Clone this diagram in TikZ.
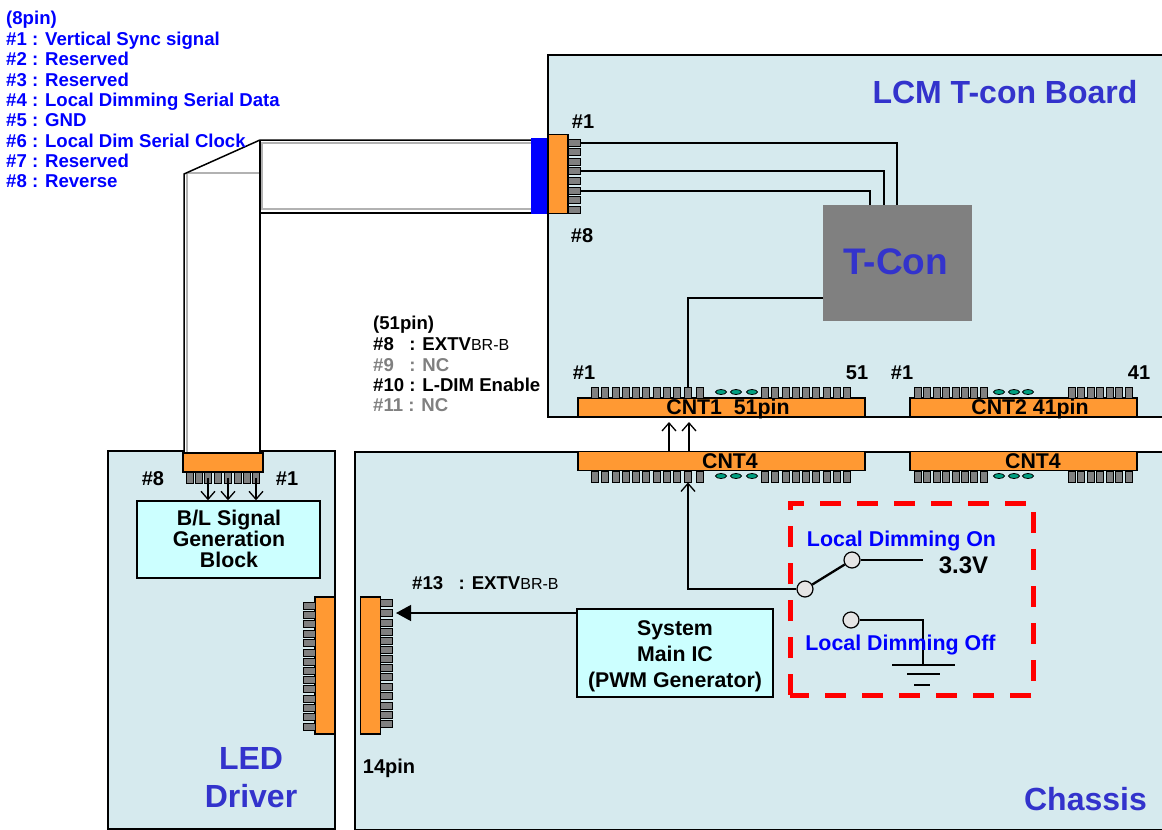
\documentclass[tikz,border=0pt]{standalone}
\usepackage{fontspec}
\setmainfont{Liberation Sans}
\usetikzlibrary{arrows.meta,shapes.geometric}
\definecolor{panelblue}{HTML}{D6EAEE}
\definecolor{plugorange}{HTML}{FF9933}
\definecolor{blockcyan}{HTML}{CCFFFF}
\definecolor{titleblue}{HTML}{3333CC}
\definecolor{padgreen}{HTML}{00A080}
\tikzset{
  panel/.style={draw=black, fill=panelblue, line width=1.5pt, inner sep=0pt},
  plug/.style={draw=black, fill=plugorange, line width=1.4pt, inner sep=0pt, font=\fontsize{21.3}{21}\selectfont\bfseries},
  pinv/.style={draw=black, fill=gray, line width=1pt, minimum width=7pt, minimum height=11pt, inner sep=0pt},
  pinh/.style={draw=black, fill=gray, line width=1pt, minimum width=12pt, minimum height=6.5pt, inner sep=0pt},
  pad/.style={draw=black, fill=padgreen, line width=.8pt, ellipse, minimum width=11pt, minimum height=5pt, inner sep=0pt},
  block/.style={draw=black, fill=blockcyan, line width=1.5pt, inner sep=0pt, align=center},
  blocktext/.style={align=center, inner sep=0pt, font=\fontsize{21.3}{21}\selectfont\bfseries},
  wire/.style={draw=black, line width=1.3pt},
  barb/.style={wire, -{Straight Barb[length=8pt,width=14pt]}},
  thick wire/.style={draw=black, line width=2.3pt},
  contact/.style={circle, draw=black, fill=black!10, line width=1.2pt, minimum size=16pt, inner sep=0pt},
  tag/.style={font=\fontsize{20}{20}\selectfont\bfseries, inner sep=0pt},
  listtext/.style={font=\fontsize{18.6}{18}\selectfont\bfseries, inner sep=0pt, anchor=base west},
  title/.style={text=titleblue, font=\fontsize{32}{38}\selectfont\bfseries, align=center, inner sep=0pt},
  dimtext/.style={text=blue, font=\fontsize{21.4}{21}\selectfont\bfseries, inner sep=0pt},
}
\newcommand{\smalltail}[1]{{\fontsize{16}{16}\selectfont\mdseries #1}}
\begin{document}
\begin{tikzpicture}[x=1pt, y=-1pt]
  \useasboundingbox (0,0) rectangle (1162,830);
  % Panels
  \node[panel, minimum width=620pt, minimum height=362pt] (board) at (858,236) {};
  \node[panel, minimum width=810pt, minimum height=378pt] (chassis) at (760,641) {};
  \node[panel, minimum width=227pt, minimum height=378pt] (driver) at (221.5,640) {};
  % Flat cable
  \fill[white] (184,174) -- (260,140) -- (532,140) -- (532,213) -- (260,213) -- (260,452) -- (184,452) -- cycle;
  \draw[black!30, line width=1.6pt] (187,452) -- (187,173) -- (262,173);
  \draw[black!30, line width=1.6pt] (532,143) -- (262,143) -- (262,209) -- (532,209);
  \draw[line width=1.5pt] (184,452) -- (184,174) -- (260,140) -- (532,140);
  \draw[line width=1.5pt] (532,213) -- (260,213);
  \draw[line width=1.5pt] (260,140) -- (260,452);
  % Cable end on the board
  \fill[blue] (531,138) rectangle (548,214);
  \node[plug, minimum width=20pt, minimum height=79pt] (cableplug) at (558,174) {};
  \foreach \i/\py in {1/143,2/152,3/162,4/171,5/181,6/191,7/200,8/210}
    \node[pinh] (cp\i) at (574,\py) {};
  \node[tag] (cpfirst) at (583,122) {\#1};
  \node[tag] (cplast) at (582,236) {\#8};
  % T-Con
  \node[fill=black!50, minimum width=149pt, minimum height=116pt, inner sep=0pt] (tcon) at (897.5,263) {};
  \node[title, font=\fontsize{37}{37}\selectfont\bfseries] (tcontext) at (895.5,262) {T-Con};
  \coordinate (tconA) at (897,205);
  \coordinate (tconB) at (884,205);
  \coordinate (tconC) at (870,205);
  \coordinate (tconD) at (823,298);
  \draw[wire] (cp1.east) -| (tconA);
  \draw[wire] (cp4.east) -| (tconB);
  \draw[wire] (cp6.east) -| (tconC);
  % Board connectors
  \node[plug, minimum width=287pt, minimum height=19pt] (cnta) at (721.5,407.5) {};
  \node[plug, minimum width=227pt, minimum height=19pt] (cntb) at (1023.5,407.5) {};
  \node[plug, minimum width=287pt, minimum height=19pt] (cntc) at (721.5,461) {};
  \node[plug, minimum width=227pt, minimum height=19pt] (cntd) at (1023.5,461) {};
  \node[blocktext] (cntatext) at (728,408.5) {CNT1\ \ 51pin};
  \node[blocktext] (cntbtext) at (1030,408.5) {CNT2 41pin};
  \node[blocktext] (cntctext) at (730,461) {CNT4};
  \node[blocktext] (cntdtext) at (1033,461) {CNT4};
  \foreach \px [count=\i] in {595,605,616,626,636,646,657,667,677,688,700,765,775,786,796,806,816,827,837,847} {
    \node[pinv] (pa\i) at (\px,392.5) {};
    \node[pinv] (pc\i) at (\px,476.5) {};
  }
  \foreach \px [count=\i] in {918,927,937,946,956,965,974,984,1072,1081,1091,1100,1110,1119,1129} {
    \node[pinv] (pb\i) at (\px,392.5) {};
    \node[pinv] (pd\i) at (\px,476.5) {};
  }
  \foreach \px in {721,736,752} {
    \node[pad] at (\px,392) {};
    \node[pad] at (\px,476) {};
  }
  \foreach \px in {999,1014,1028} {
    \node[pad] at (\px,392) {};
    \node[pad] at (\px,476) {};
  }
  \draw[wire] (tconD) -| (pa10.north);
  \node[tag] (afirst) at (584,373) {\#1};
  \node[tag] (alast) at (857,373) {51};
  \node[tag] (bfirst) at (902,373) {\#1};
  \node[tag] (blast) at (1139,373) {41};
  % Arrows between the connectors
  \coordinate (upA) at (669,451);
  \coordinate (upB) at (689,451);
  \coordinate (upAend) at (669,422);
  \coordinate (upBend) at (689,422);
  \draw[barb] (upA) -- (upAend);
  \draw[barb] (upB) -- (upBend);
  % LED driver side
  \node[plug, minimum width=80pt, minimum height=19pt] (ledplug) at (223,462.5) {};
  \foreach \px [count=\i] in {190,199,208,218,228,238,247,256}
    \node[pinv] (lp\i) at (\px,477.5) {};
  \node[tag] (lfirst) at (153,479) {\#8};
  \node[tag] (llast) at (287,479) {\#1};
  \node[block, minimum width=183pt, minimum height=77pt] (blblock) at (228.5,539.5) {};
  \node[blocktext] (bltext) at (229,539) {B/L Signal\\Generation\\Block};
  \draw[barb] (lp3.center) -- (lp3 |- blblock.north);
  \draw[barb] (lp5.center) -- (lp5 |- blblock.north);
  \draw[barb] (lp8.center) -- (lp8 |- blblock.north);
  % 14 pin connectors
  \node[plug, minimum width=20pt, minimum height=137pt] (drvplug) at (325,665.5) {};
  \node[plug, minimum width=20pt, minimum height=137pt] (mainplug) at (370.5,665.5) {};
  \foreach \py [count=\i] in {606,615,624,634,643,653,662,671,680,689,699,708,717,727}
    \node[pinh] (dp\i) at (309.5,\py) {};
  \foreach \py [count=\i] in {603,613,623,632,641,650,659,668,677,687,696,706,715,724}
    \node[pinh] (mp\i) at (386.5,\py) {};
  \node[tag] (mlabel) at (389,768) {14pin};
  % System IC
  \node[block, minimum width=196pt, minimum height=88pt] (mainic) at (675,653) {};
  \node[blocktext, font=\fontsize{21.3}{26}\selectfont\bfseries] (mainictext) at (675,656) {System\\Main IC\\(PWM Generator)};
  \coordinate (mpin) at (396,613);
  \draw[wire, -{Triangle[length=15pt,width=16pt]}] (mainic.west |- mpin) -- (mpin);
  \node[listtext] (extvb) at (412,589) {\#13\ \ \ : EXTV\smalltail{BR-B}};
  % Switch
  \node[contact] (swcom) at (805,589) {};
  \node[contact] (swon) at (852,560) {};
  \node[contact] (swoff) at (851,620) {};
  \coordinate (railon) at (923,560);
  \coordinate (gnd) at (923,665);
  \coordinate (gndLa) at (892,665);
  \coordinate (gndLb) at (955,665);
  \coordinate (gndMa) at (907,674);
  \coordinate (gndMb) at (940,674);
  \coordinate (gndSa) at (914,685);
  \coordinate (gndSb) at (930,685);
  \draw[barb] (swcom.west) -| (pc10.south);
  \draw[thick wire] (swcom) -- (swon);
  \draw[thick wire] (swon.east) -- (railon);
  \draw[thick wire] (swoff.east) -| (gnd);
  \draw[thick wire] (gndLa) -- (gndLb);
  \draw[thick wire] (gndMa) -- (gndMb);
  \draw[thick wire] (gndSa) -- (gndSb);
  \draw[red, line width=5pt, dash pattern=on 21pt off 16pt] (790,695) rectangle (1033,503);
  \node[dimtext] (dimon) at (901.5,541) {Local Dimming On};
  \node[dimtext] (dimoff) at (900.5,645) {Local Dimming Off};
  \node[tag, font=\fontsize{24}{24}\selectfont\bfseries] (volts) at (963.5,565) {3.3V};
  % Titles
  \node[title] (boardtitle) at (1005,92) {LCM T-con Board};
  \node[title] (drivertitle) at (251,778) {LED\\Driver};
  \node[title] (chassistitle) at (1085.5,799) {Chassis};
  % Pin lists
  \foreach \ty/\txt in {24/(8pin),45/\#1 : Vertical Sync signal,65/\#2 : Reserved,86/\#3 : Reserved,106/\#4 : Local Dimming Serial Data,126/\#5 : GND,147/\#6 : Local Dim Serial Clock,167/\#7 : Reserved,187/\#8 : Reverse}
    \node[listtext, text=blue] at (6,\ty) {\txt};
  \node[listtext] (cfga) at (373,329) {(51pin)};
  \node[listtext] (cfgb) at (373,350) {\#8\ \ \ : EXTV\smalltail{BR-B}};
  \node[listtext, text=black!50] (cfgc) at (373,371) {\#9\ \ \ : NC};
  \node[listtext] (cfgd) at (373,391) {\#10 : L-DIM Enable};
  \node[listtext, text=black!50] (cfge) at (373,411) {\#11 : NC};
\end{tikzpicture}
\end{document}
